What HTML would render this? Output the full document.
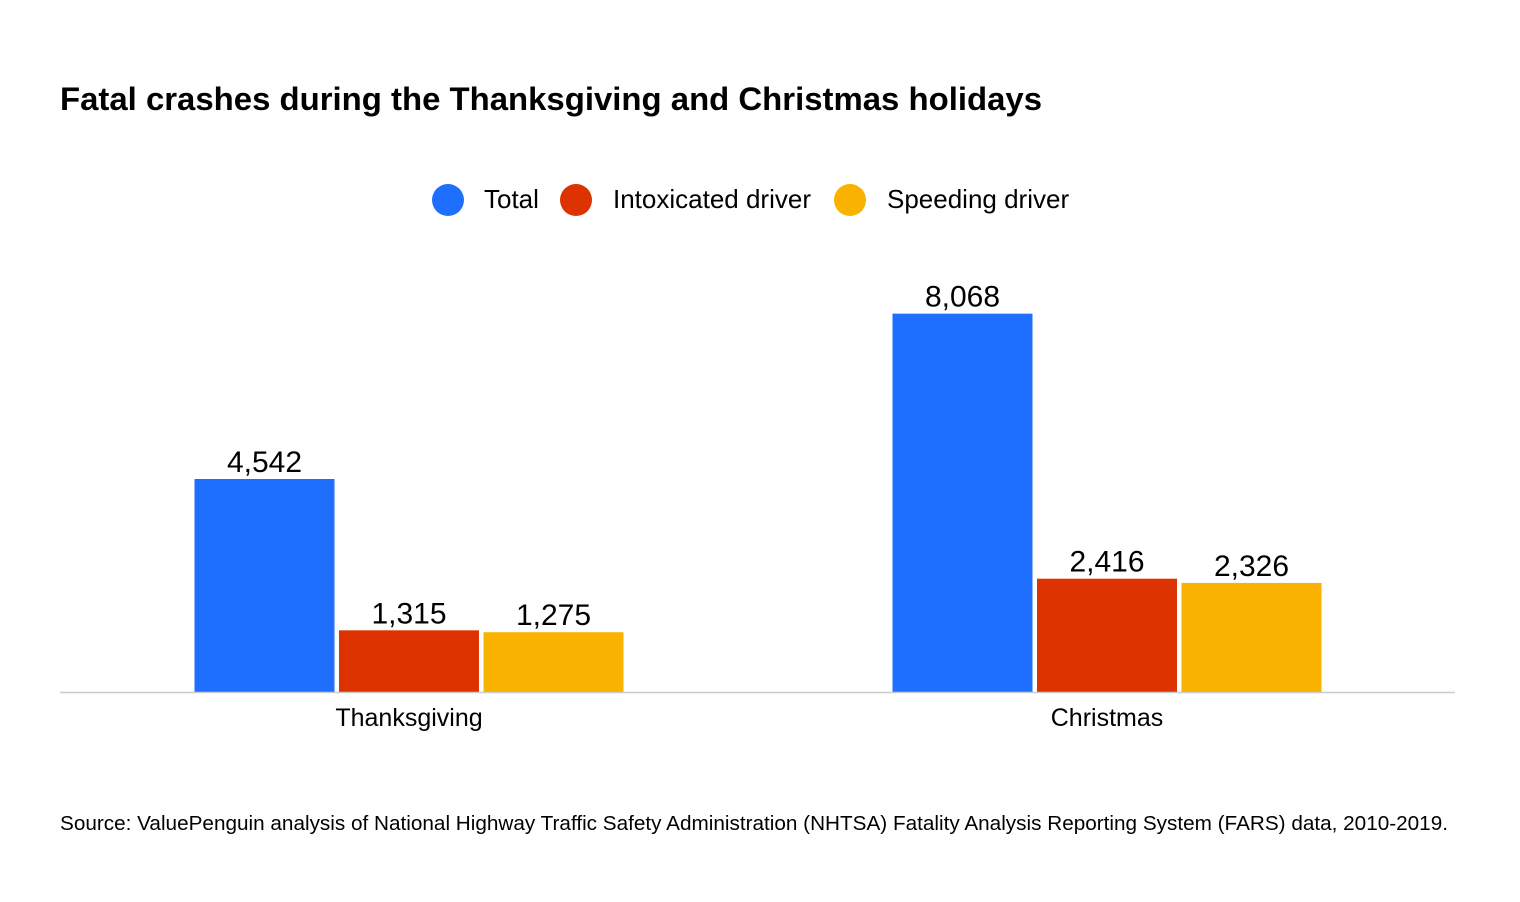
<!DOCTYPE html>
<html><head><meta charset="utf-8"><style>
html,body{margin:0;padding:0;background:#fff;}
svg{display:block;font-family:"Liberation Sans",sans-serif;}
</style></head><body>
<svg id="chart" width="1520" height="902" viewBox="0 0 1520 902">
<rect width="1520" height="902" fill="#fff"/>
<text x="60" y="110" font-size="32" font-weight="bold" fill="#000" textLength="982" lengthAdjust="spacingAndGlyphs">Fatal crashes during the Thanksgiving and Christmas holidays</text>
<g>
<g><circle cx="448" cy="200" r="16" fill="#1f6fff"/><text x="484" y="208" font-size="26" fill="#000">Total</text></g>
<g><circle cx="576" cy="200" r="16" fill="#dc3300"/><text x="613" y="208" font-size="26" fill="#000">Intoxicated driver</text></g>
<g><circle cx="850" cy="200" r="16" fill="#f9b200"/><text x="887" y="208" font-size="26" fill="#000">Speeding driver</text></g>
</g>
<g id="bars"></g>
<line x1="60" y1="692.5" x2="1455" y2="692.5" stroke="#cccccc" stroke-width="1.5"/>
<text x="60" y="830" font-size="20" fill="#000" textLength="1388" lengthAdjust="spacingAndGlyphs">Source: ValuePenguin analysis of National Highway Traffic Safety Administration (NHTSA) Fatality Analysis Reporting System (FARS) data, 2010-2019.</text>
</svg>
<script>
const categories = ["Thanksgiving", "Christmas"];
const seriesNames = ["Total", "Intoxicated driver", "Speeding driver"];
const totalValues = [4542, 8068];
const intoxicatedValues = [1315, 2416];
const speedingValues = [1275, 2326];
const valueLabels = [["4,542","1,315","1,275"],["8,068","2,416","2,326"]];

const colors = ["#1f6fff", "#dc3300", "#f9b200"];
const series = [totalValues, intoxicatedValues, speedingValues];
const baseY = 692, pxPerUnit = 213 / 4542;
const groupCenters = [409, 1107];
const barW = 140, step = 144.5;
function yScale(v){ return baseY - v * pxPerUnit; }
const NS = "http://www.w3.org/2000/svg";
const g = document.getElementById('bars');
categories.forEach((cat, ci) => {
  series.forEach((vals, si) => {
    const x = groupCenters[ci] + (si - 1) * step - barW / 2;
    const y = yScale(vals[ci]);
    const r = document.createElementNS(NS, 'rect');
    r.setAttribute('x', x); r.setAttribute('y', y);
    r.setAttribute('width', barW); r.setAttribute('height', baseY - y);
    r.setAttribute('fill', colors[si]);
    
    
    g.appendChild(r);
    const t = document.createElementNS(NS, 'text');
    t.setAttribute('x', x + barW / 2); t.setAttribute('y', y - 7);
    t.setAttribute('text-anchor', 'middle'); t.setAttribute('font-size', '30');
    t.textContent = valueLabels[ci][si];
    
    
    g.appendChild(t);
  });
  const c = document.createElementNS(NS, 'text');
  c.setAttribute('x', groupCenters[ci]); c.setAttribute('y', 726);
  c.setAttribute('text-anchor', 'middle'); c.setAttribute('font-size', '25');
  c.textContent = cat;
  
  
  g.appendChild(c);
});
</script>
</body></html>
